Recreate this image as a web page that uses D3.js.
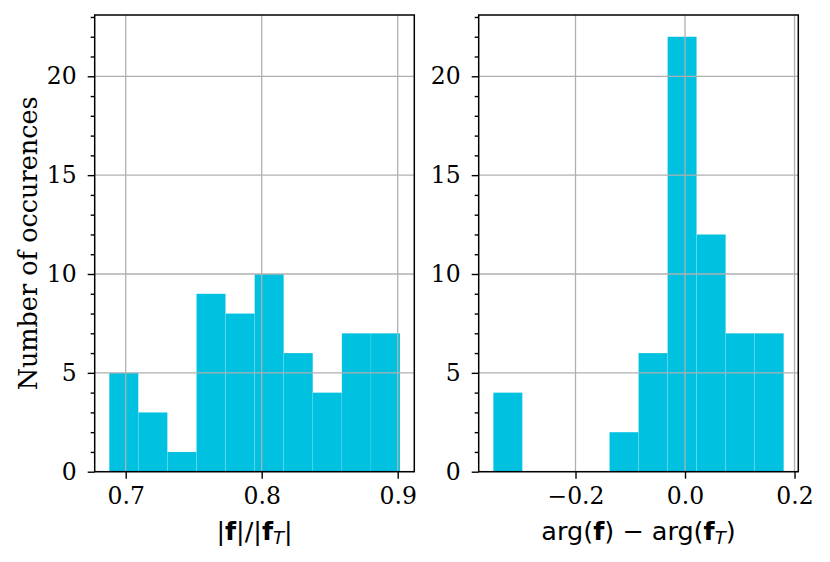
<!DOCTYPE html>
<html><head><meta charset="utf-8">
<script src="https://cdn.jsdelivr.net/npm/d3@7"></script>
<style>body{margin:0;background:#fff}svg{display:block}</style>
</head><body>
<script>
// Data
const magBinStart = 0.6879, magBinWidth = 0.02138;
const magCounts = [5, 3, 1, 9, 8, 10, 6, 4, 7, 7];
const argBinStart = -0.3501, argBinWidth = 0.05304;
const argCounts = [4, 0, 0, 0, 2, 6, 22, 12, 7, 7];
const magTicks = [0.7, 0.8, 0.9];
const argTicks = [-0.2, 0.0, 0.2];
const yTicks = [0, 5, 10, 15, 20];
const yLabel = "Number of occurences";

const W = 830, H = 562;
const svg = d3.select("body").append("svg").attr("width", W).attr("height", H);
const barColor = "#00c1e0";
const plotTop = 15, plotBottom = 471.7;
const tickFont = 23.5, labelFont = 25.5;
const y = d3.scaleLinear().domain([0, 23.1]).range([plotBottom, plotTop]);

function panel(x0, x1, domain, binStart, binWidth, counts, ticks, fmt, labelFn, showY) {
  const x = d3.scaleLinear().domain(domain).range([x0, x1]);
  const g = svg.append("g");
  const bins = counts.map((c, i) => ({x0: binStart + i * binWidth, x1: binStart + (i + 1) * binWidth, c}));
  g.selectAll("rect.bar").data(bins.filter(b => b.c > 0)).enter().append("rect")
    .attr("x", d => x(d.x0)).attr("width", d => x(d.x1) - x(d.x0))
    .attr("y", d => y(d.c)).attr("height", d => y(0) - y(d.c))
    .attr("fill", barColor).attr("stroke", "rgba(255,255,255,0.18)").attr("stroke-width", 0.6);
  // grid
  g.selectAll("line.gx").data(ticks).enter().append("line")
    .attr("x1", d => x(d)).attr("x2", d => x(d)).attr("y1", plotTop).attr("y2", plotBottom)
    .attr("stroke", "#b0b0b0").attr("stroke-width", 1.3);
  g.selectAll("line.gy").data(yTicks).enter().append("line")
    .attr("x1", x0).attr("x2", x1).attr("y1", d => y(d)).attr("y2", d => y(d))
    .attr("stroke", "#b0b0b0").attr("stroke-width", 1.3);
  // axes
  const xa = g.append("g").attr("transform", `translate(0,${plotBottom})`)
    .call(d3.axisBottom(x).tickValues(ticks).tickFormat(fmt).tickSize(7).tickPadding(9));
  const ya = g.append("g").attr("transform", `translate(${x0},0)`)
    .call(d3.axisLeft(y).tickValues(yTicks).tickSize(7).tickPadding(11));
  const yMinor = d3.range(0, 24).filter(v => v % 5 !== 0);
  g.append("g").attr("transform", `translate(${x0},0)`)
    .call(d3.axisLeft(y).tickValues(yMinor).tickSize(4).tickFormat(""))
    .select(".domain").remove();
  [xa, ya].forEach(a => {
    a.select(".domain").remove();
    a.selectAll("text").attr("font-family", "DejaVu Serif").attr("font-size", tickFont).attr("fill", "#000");
  });
  g.selectAll(".tick line").attr("stroke", "#000").attr("stroke-width", 1.4);
  // spines
  g.append("rect").attr("x", x0).attr("y", plotTop).attr("width", x1 - x0).attr("height", plotBottom - plotTop)
    .attr("fill", "none").attr("stroke", "#000").attr("stroke-width", 1.5);
  // xlabel
  const t = g.append("text").attr("x", (x0 + x1) / 2).attr("y", 540).attr("text-anchor", "middle")
    .attr("font-family", "DejaVu Sans").attr("font-size", labelFont).attr("fill", "#000");
  labelFn(t);
  if (showY) {
    g.append("text").attr("transform", `translate(37,${(plotTop + plotBottom) / 2}) rotate(-90)`)
      .attr("text-anchor", "middle").attr("font-family", "DejaVu Serif").attr("font-size", labelFont)
      .text(yLabel);
  }
}

const fmtMag = d3.format(".1f");
const fmtArg = v => (v < 0 ? "\u2212" : "") + d3.format(".1f")(Math.abs(v));

panel(94.7, 414.3, [0.6772, 0.9122], magBinStart, magBinWidth, magCounts, magTicks, fmtMag, t => {
  t.append("tspan").text("|");
  t.append("tspan").attr("font-weight", "bold").text("f");
  t.append("tspan").text("|/|");
  t.append("tspan").attr("font-weight", "bold").text("f");
  t.append("tspan").attr("font-style", "italic").attr("font-size", 18).attr("dy", 4).text("T");
  t.append("tspan").attr("dy", -4).text("|");
}, true);

panel(478.7, 798.3, [-0.3768, 0.2069], argBinStart, argBinWidth, argCounts, argTicks, fmtArg, t => {
  t.append("tspan").text("arg(");
  t.append("tspan").attr("font-weight", "bold").text("f");
  t.append("tspan").text(") \u2212 arg(");
  t.append("tspan").attr("font-weight", "bold").text("f");
  t.append("tspan").attr("font-style", "italic").attr("font-size", 18).attr("dy", 4).text("T");
  t.append("tspan").attr("dy", -4).text(")");
}, false);
</script>
</body></html>
